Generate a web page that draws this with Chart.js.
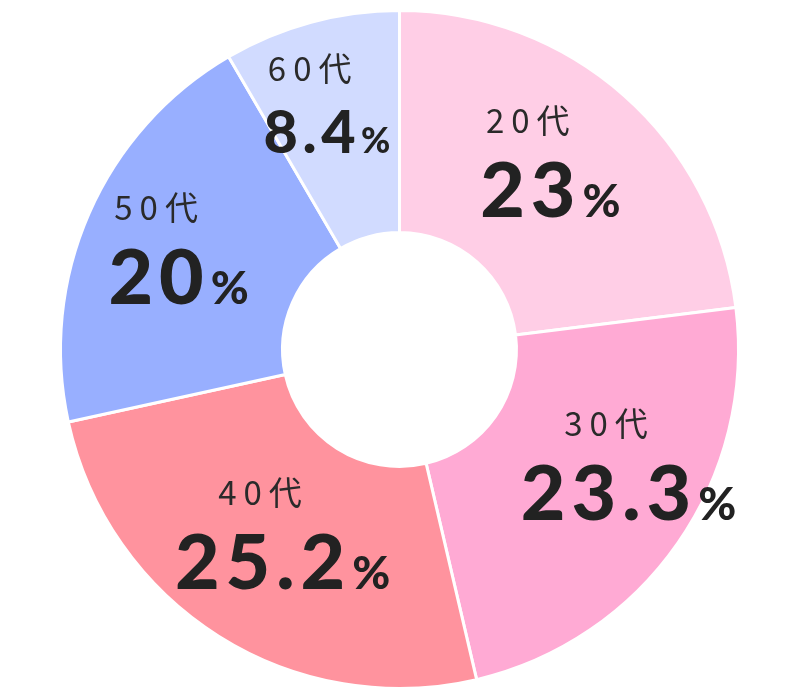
<!DOCTYPE html>
<html><head><meta charset="utf-8">
<script src="https://cdn.jsdelivr.net/npm/chart.js@4/dist/chart.umd.min.js"></script>
<style>html,body{margin:0;padding:0;background:#fff}#wrap{width:800px;height:690px}</style>
</head><body><div id="wrap"><canvas id="c" width="800" height="690"></canvas></div>
<script>
// ---- data ----
const categories = ['20代', '30代', '40代', '50代', '60代'];
const values = [23, 23.3, 25.2, 20, 8.4];
const valueLabels = ['23', '23.3', '25.2', '20', '8.4'];
const colors = ['#FFCEE6', '#FFAAD4', '#FF939E', '#98AFFF', '#D1DBFF'];
// ---- label layout tweaks (px offsets from the slice's mid point) ----
const labelOffsets = [[-31, -36], [9, -51], [-11, -48], [-23, -33], [-27, -36]];
const labelScale = [1, 1, 1, 1, 0.77];

function drawSpaced(ctx, text, x, y, ls, align) {
  const chars = Array.from(text);
  const ws = chars.map(ch => ctx.measureText(ch).width);
  const total = ws.reduce((a, b) => a + b, 0) + ls * (chars.length - 1);
  const left = align === 'center' ? x - total / 2 : x;
  let cx = left;
  ctx.textAlign = 'left';
  chars.forEach((ch, i) => { ctx.fillText(ch, cx, y); cx += ws[i] + ls; });
  return { left: left, right: left + total };
}

const labelPlugin = {
  id: 'segLabels',
  afterDatasetsDraw(chart) {
    const ctx = chart.ctx;
    const meta = chart.getDatasetMeta(0);
    meta.data.forEach((arc, i) => {
      const p = arc.getProps(['x', 'y', 'startAngle', 'endAngle', 'outerRadius'], true);
      const mid = (p.startAngle + p.endAngle) / 2;
      const r = p.outerRadius * 0.71;
      const x = p.x + Math.cos(mid) * r + labelOffsets[i][0];
      const yS = p.y + Math.sin(mid) * r + labelOffsets[i][1];
      const s = labelScale[i];
      ctx.save();
      ctx.textBaseline = 'alphabetic';
      ctx.fillStyle = '#2a2a2a';
      ctx.font = '400 33px "Noto Sans CJK JP", "Noto Sans", sans-serif';
      drawSpaced(ctx, categories[i], x, yS, 7, 'center');
      ctx.fillStyle = '#222222';
      const cap = 55 * s;
      const yB = yS + 29 + cap;
      ctx.font = `900 ${77 * s}px Lato, "Noto Sans", sans-serif`;
      const box = drawSpaced(ctx, valueLabels[i], x, yB, 6 * s, 'center');
      ctx.font = `900 ${46 * s}px Lato, "Noto Sans", sans-serif`;
      drawSpaced(ctx, '%', box.right + 7 * s, yB, 0, 'left');
      ctx.restore();
    });
  }
};

new Chart(document.getElementById('c'), {
  type: 'doughnut',
  data: {
    labels: categories,
    datasets: [{
      data: values,
      backgroundColor: colors,
      borderColor: '#ffffff',
      borderWidth: 3,
      hoverOffset: 0
    }]
  },
  options: {
    responsive: false,
    devicePixelRatio: 1,
    animation: false,
    cutout: '34.5%',
    layout: { padding: { top: 9, bottom: 0, left: 0, right: 1 } },
    plugins: { legend: { display: false }, tooltip: { enabled: false } }
  },
  plugins: [labelPlugin]
});
</script>
</body></html>
